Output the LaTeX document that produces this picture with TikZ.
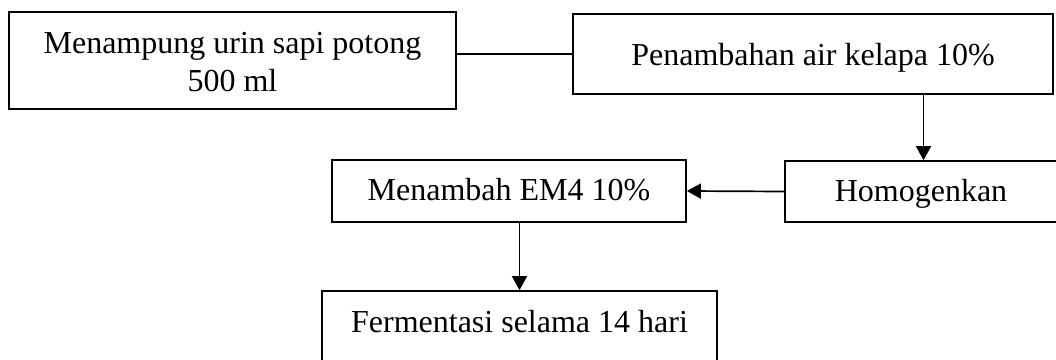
\documentclass[tikz,border=0pt]{standalone}
\usepackage{fontspec}
\setmainfont{Liberation Serif}
\usetikzlibrary{arrows.meta}
\tikzset{
  box/.style={draw=black, line width=1.7pt, rectangle, inner sep=0pt,
    font=\fontsize{32}{38}\selectfont, align=center},
  conn/.style={draw=black, line width=1.7pt},
  arr/.style={conn, -{Triangle[width=15pt,length=14pt]}},
}
\begin{document}
\begin{tikzpicture}[x=1pt,y=1pt]
\useasboundingbox (0,0) rectangle (1056,-359);
\clip (0,0) rectangle (1056,-359);
\node[box, minimum width=447pt, minimum height=97pt, text height=25pt, text depth=40pt]
  (b1) at (232.5,-60.5) {\begin{tabular}[t]{@{}c@{}}Menampung urin sapi potong\\500 ml\end{tabular}};
\node[box, minimum width=480pt, minimum height=80pt, text height=22pt, text depth=0pt]
  (b2) at (813,-54) {Penambahan air kelapa 10\%};
\node[box, minimum width=277pt, minimum height=61pt, text height=19pt, text depth=0pt, xshift=0pt]
  (b3) at (923.5,-191.5) {\hspace*{-5pt}Homogenkan};
\node[box, minimum width=354pt, minimum height=62pt, text height=18pt, text depth=0pt]
  (b4) at (509,-191) {Menambah EM4 10\%};
\node[box, minimum width=395pt, minimum height=71pt, text height=11pt, text depth=0pt]
  (b5) at (519.5,-326.5) {Fermentasi selama 14 hari};
\draw[conn] (b1.east |- b2.west) -- (b2.west);
\draw[arr] (b2.south -| b3.north) -- (b3.north);
\draw[arr] (b3.west) -- (b4.east);
\draw[arr] (b4.south -| b5.north) -- (b5.north);
\end{tikzpicture}
\end{document}
